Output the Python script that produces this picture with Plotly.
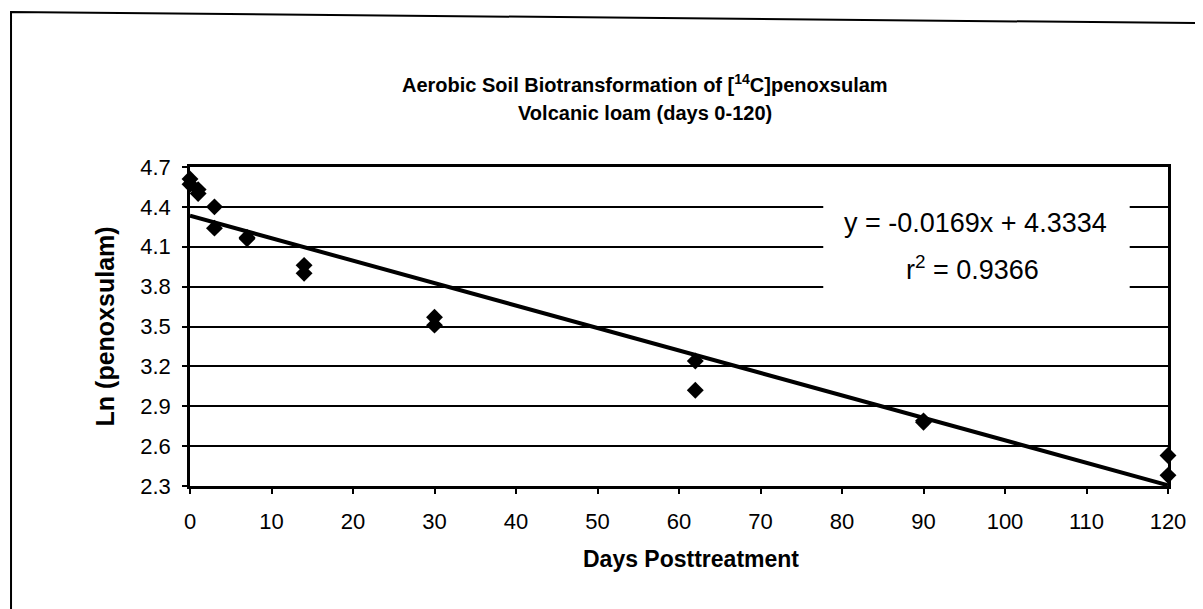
import plotly.graph_objects as go

# Data
days = [0, 0, 1, 1, 3, 3, 7, 7, 14, 14, 30, 30, 62, 62, 90, 90, 120, 120]
ln_penoxsulam = [4.61, 4.57, 4.53, 4.50, 4.40, 4.24, 4.17, 4.16, 3.96, 3.90,
                 3.57, 3.51, 3.24, 3.02, 2.79, 2.78, 2.53, 2.38]
slope = -0.0169
intercept = 4.3334
r_squared = 0.9366
fit_days = [0, 120]
fit_values = [intercept + slope * d for d in fit_days]

x_ticks = list(range(0, 121, 10))
y_ticks = [2.3, 2.6, 2.9, 3.2, 3.5, 3.8, 4.1, 4.4, 4.7]

title_line1 = "Aerobic Soil Biotransformation of [<sup>14</sup>C]penoxsulam"
title_line2 = "Volcanic loam (days 0-120)"
x_title = "Days Posttreatment"
y_title = "Ln (penoxsulam)"

FONT = "Liberation Sans, Arial, sans-serif"

fig = go.Figure()
fig.add_trace(go.Scatter(x=fit_days, y=fit_values, mode="lines",
                         line=dict(color="black", width=4), hoverinfo="skip",
                         cliponaxis=False, showlegend=False))
fig.add_trace(go.Scatter(x=days, y=ln_penoxsulam, mode="markers",
                         marker=dict(symbol="diamond", size=13, color="black"),
                         cliponaxis=False, showlegend=False))

# White label box behind the equation (breaks the gridlines)
fig.add_shape(type="rect", xref="x", yref="y", x0=77.7, x1=115.3, y0=3.73, y1=4.445,
              fillcolor="white", line=dict(width=0), layer="between")
fig.add_annotation(x=96.4, y=4.279, xref="x", yref="y",
                   text=f"y = {slope}x + {intercept}", showarrow=False,
                   font=dict(family=FONT, size=27, color="black"))
fig.add_annotation(x=96.0, y=3.94, xref="x", yref="y",
                   text=f"r<sup>2</sup> = {r_squared}", showarrow=False,
                   font=dict(family=FONT, size=27, color="black"))

# Title (two lines)
fig.add_annotation(x=0.465, y=1.263, xref="paper", yref="paper",
                   text=f"<b>{title_line1}</b>", showarrow=False,
                   font=dict(family=FONT, size=20, color="black"),
                   xanchor="center", yanchor="middle")
fig.add_annotation(x=0.465, y=1.169, xref="paper", yref="paper",
                   text=f"<b>{title_line2}</b>", showarrow=False,
                   font=dict(family=FONT, size=20, color="black"),
                   xanchor="center", yanchor="middle")

# Axis titles
fig.add_annotation(x=0.512, y=-0.228, xref="paper", yref="paper",
                   text=f"<b>{x_title}</b>", showarrow=False,
                   font=dict(family=FONT, size=23, color="black"),
                   xanchor="center", yanchor="middle")
fig.add_annotation(x=-0.087, y=0.5, xref="paper", yref="paper",
                   text=f"<b>{y_title}</b>", showarrow=False, textangle=-90,
                   font=dict(family=FONT, size=25, color="black"),
                   xanchor="center", yanchor="middle")

# Outer chart frame (slightly skewed as in the scan)
fig.add_shape(type="path", xref="paper", yref="paper",
              path="M -0.183 1.486 L 1.038 1.451 L 1.038 -0.398 L -0.183 -0.404 Z",
              line=dict(color="black", width=2))

fig.update_xaxes(range=[0, 120], tickvals=x_ticks, showgrid=False,
                 showline=True, linecolor="black", linewidth=2.5, mirror=True,
                 ticks="outside", ticklen=5, tickcolor="black", tickwidth=1.5,
                 ticklabelstandoff=9,
                 tickfont=dict(family=FONT, size=22, color="black"),
                 zeroline=False)
fig.update_yaxes(range=[2.3, 4.7], tickvals=y_ticks, ticktext=[f"{v:.1f}" for v in y_ticks],
                 showgrid=True, gridcolor="black", gridwidth=1.5,
                 showline=True, linecolor="black", linewidth=2.5, mirror=True,
                 ticks="outside", ticklen=5, tickcolor="black", tickwidth=1.5,
                 ticklabelstandoff=7,
                 tickfont=dict(family=FONT, size=22, color="black"),
                 zeroline=False)

fig.update_layout(width=1203, height=609,
                  margin=dict(l=182, r=43, t=159, b=131),
                  paper_bgcolor="white", plot_bgcolor="white",
                  showlegend=False)

fig.write_html("out.html")
